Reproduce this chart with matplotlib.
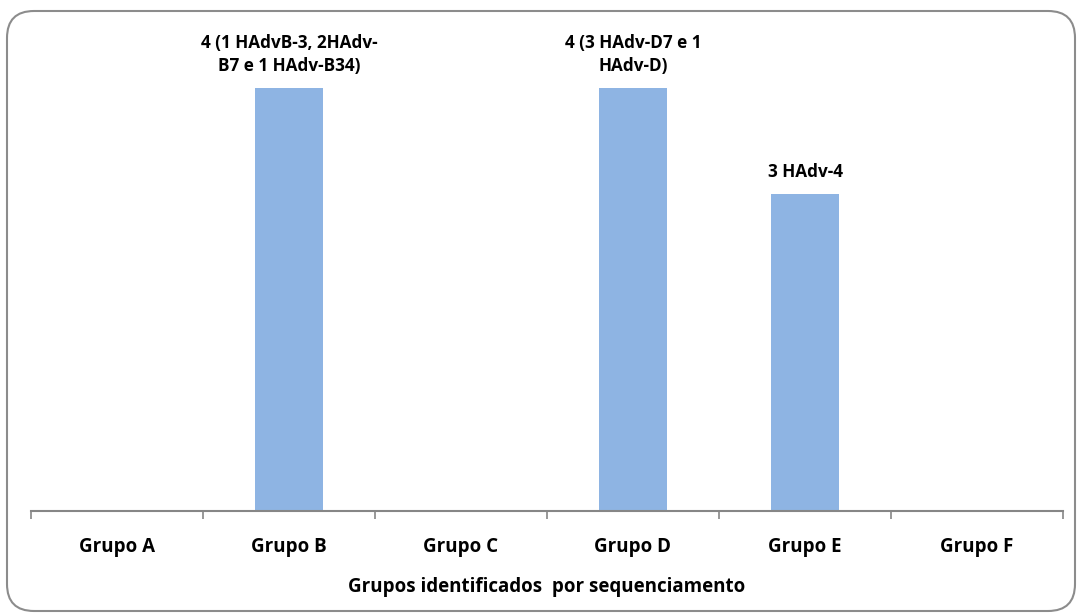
import matplotlib.pyplot as plt
from matplotlib.patches import FancyBboxPatch
import numpy as np

grupos = ['Grupo A', 'Grupo B', 'Grupo C', 'Grupo D', 'Grupo E', 'Grupo F']
contagens = [0, 4, 0, 4, 3, 0]
rotulos = ['', '4 (1 HAdvB-3, 2HAdv-\nB7 e 1 HAdv-B34)', '',
           '4 (3 HAdv-D7 e 1\nHAdv-D)', '3 HAdv-4', '']

plt.rcParams['font.family'] = ['Open Sans', 'DejaVu Sans']

fig = plt.figure(figsize=(10.8, 6.14), dpi=100)
ax = fig.add_axes([31 / 1080, 103 / 614, 1032 / 1080, 476 / 614])

# moldura arredondada em volta do grafico
moldura = FancyBboxPatch((7 / 1080, 3 / 614), 1068 / 1080, 600 / 614,
                         boxstyle='round,pad=0,rounding_size=0.025',
                         transform=fig.transFigure, facecolor='none',
                         edgecolor='#8c8c8c', linewidth=1.5, mutation_aspect=1080 / 614)
fig.patches.append(moldura)

x = np.arange(len(grupos))
ax.bar(x, contagens, width=0.4, color='#8EB4E3')

for xi, v, r in zip(x, contagens, rotulos):
    if r:
        ax.annotate(r, (xi, v), xytext=(0, 9), textcoords='offset points',
                    ha='center', va='bottom', fontsize=12.3, fontweight='bold',
                    linespacing=1.35, annotation_clip=False)

ax.set_xlim(-0.5, len(grupos) - 0.5)
ax.set_ylim(0, 4.5)
ax.set_yticks([])
for s in ['top', 'right', 'left']:
    ax.spines[s].set_visible(False)
ax.spines['bottom'].set_color('#868686')
ax.spines['bottom'].set_linewidth(1.5)

ax.set_xticks(x)
ax.set_xticklabels(grupos, fontsize=13.5, fontweight='bold')
ax.tick_params(axis='x', which='major', length=0, pad=19)
ax.set_xticks(np.arange(-0.5, len(grupos)), minor=True)
ax.tick_params(axis='x', which='minor', length=6, width=1.2, color='#868686')

ax.set_xlabel('Grupos identificados  por sequenciamento', fontsize=13.5,
              fontweight='bold', labelpad=14)

fig.savefig('out.png', dpi=100)
